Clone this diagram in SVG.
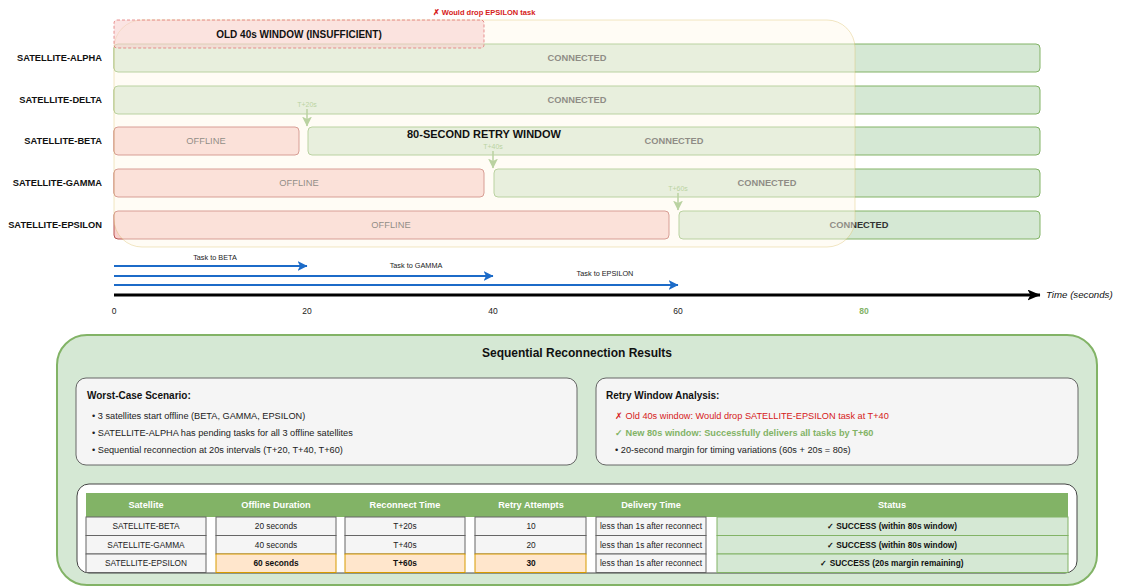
<svg xmlns="http://www.w3.org/2000/svg" width="1123" height="587" viewBox="0 0 1123 587">
<defs>
<style>
text{font-family:"Liberation Sans",Arial,Helvetica,sans-serif;}
.lbl{font-size:9.3px;font-weight:bold;fill:#111;text-anchor:end;dominant-baseline:central}
.on{fill:#d5e8d4;stroke:#82b366;stroke-width:1}
.off{fill:#f8cecc;stroke:#b85450;stroke-width:1}
.ct{font-size:9.3px;font-weight:bold;fill:#333;text-anchor:middle;dominant-baseline:central}
.ot{font-size:9.3px;fill:#333;text-anchor:middle;dominant-baseline:central}
.tm{font-size:7px;fill:#82b366;text-anchor:middle;dominant-baseline:central}
.tg{stroke:#82b366;stroke-width:1.5;fill:none}
.task{stroke:#1c6bc8;stroke-width:2;fill:none}
.tl{font-size:7.3px;fill:#222;text-anchor:middle}
.tick{font-size:8.5px;fill:#222;text-anchor:middle}
.box{fill:#f5f5f5;stroke:#666;stroke-width:1}
.bh{font-size:10px;font-weight:bold;fill:#111}
.bl{font-size:9.2px;fill:#222}
.red{fill:#d62020}
.grn{fill:#82b366;font-weight:bold}
.cell{fill:#f5f5f5;stroke:#666;stroke-width:1}
.hi{fill:#ffe6cc;stroke:#d79b00;stroke-width:1}
.st{fill:#d5e8d4;stroke:#82b366;stroke-width:1}
.th{font-size:9.2px;font-weight:bold;fill:#fff;text-anchor:middle;dominant-baseline:central}
.td{font-size:8.3px;fill:#222;text-anchor:middle;dominant-baseline:central}
.tb{font-size:8.3px;font-weight:bold;fill:#111;text-anchor:middle;dominant-baseline:central}
</style>
<marker id="mb" markerWidth="10" markerHeight="10" refX="9.5" refY="5" orient="auto" markerUnits="userSpaceOnUse"><path d="M0,0 L10,5 L0,10 L2.5,5 z" fill="#1c6bc8"/></marker>
<marker id="mk" markerWidth="13" markerHeight="11" refX="12.5" refY="5.5" orient="auto" markerUnits="userSpaceOnUse"><path d="M0,0 L13,5.5 L0,11 L3,5.5 z" fill="#000"/></marker>
<marker id="mg" markerWidth="10" markerHeight="10" refX="9.5" refY="5" orient="auto" markerUnits="userSpaceOnUse"><path d="M0,0 L10,5 L0,10 L2.5,5 z" fill="#82b366"/></marker>
</defs>
<rect width="1123" height="587" fill="#fff"/>

<g id="row-alpha">
<text class="lbl" x="102" y="58">SATELLITE-ALPHA</text>
<rect class="on" x="114" y="44" width="926" height="28" rx="4"/>
<text class="ct" x="577" y="58">CONNECTED</text>
</g>
<g id="row-delta">
<text class="lbl" x="102" y="100">SATELLITE-DELTA</text>
<rect class="on" x="114" y="86" width="926" height="28" rx="4"/>
<text class="ct" x="577" y="100">CONNECTED</text>
</g>
<g id="row-beta">
<text class="lbl" x="102" y="141">SATELLITE-BETA</text>
<rect class="off" x="114" y="127" width="185" height="28" rx="4"/>
<text class="ot" x="206" y="141">OFFLINE</text>
<rect class="on" x="308" y="127" width="732" height="28" rx="4"/>
<text class="ct" x="674" y="141">CONNECTED</text>
</g>
<g id="row-gamma">
<text class="lbl" x="102" y="183">SATELLITE-GAMMA</text>
<rect class="off" x="114" y="169" width="370" height="28" rx="4"/>
<text class="ot" x="299" y="183">OFFLINE</text>
<rect class="on" x="494" y="169" width="546" height="28" rx="4"/>
<text class="ct" x="767" y="183">CONNECTED</text>
</g>
<g id="row-epsilon">
<text class="lbl" x="102" y="225">SATELLITE-EPSILON</text>
<rect class="off" x="114" y="211" width="555" height="28" rx="4"/>
<text class="ot" x="391" y="225">OFFLINE</text>
<rect class="on" x="679" y="211" width="361" height="28" rx="4"/>
<text class="ct" x="859" y="225">CONNECTED</text>
</g>

<g id="reconnect-markers">
<text class="tm" x="307" y="104">T+20s</text>
<line class="tg" x1="307" y1="109" x2="307" y2="126" marker-end="url(#mg)"/>
<text class="tm" x="493" y="146">T+40s</text>
<line class="tg" x1="493" y1="151" x2="493" y2="168" marker-end="url(#mg)"/>
<text class="tm" x="678" y="188">T+60s</text>
<line class="tg" x1="678" y1="193" x2="678" y2="210" marker-end="url(#mg)"/>
</g>

<g id="retry-window">
<rect x="114" y="20" width="741" height="227" rx="28" fill="#fff8e8" fill-opacity="0.45" stroke="#d6b656" stroke-opacity="0.35" stroke-width="1"/>
<text x="484" y="138" font-size="11" font-weight="bold" fill="#111" text-anchor="middle">80-SECOND RETRY WINDOW</text>
</g>

<g id="old-window">
<rect x="114" y="20" width="370" height="28" rx="3" fill="#f8cecc" fill-opacity="0.55" stroke="#e07070" stroke-opacity="0.75" stroke-dasharray="3 2" stroke-width="1"/>
<text x="299" y="38" font-size="10" font-weight="bold" fill="#111" text-anchor="middle">OLD 40s WINDOW (INSUFFICIENT)</text>
<text x="484" y="15" font-size="7.5" font-weight="bold" fill="#d62020" text-anchor="middle">✗ Would drop EPSILON task</text>
</g>

<g id="connectors">
<line class="task" x1="114" y1="266" x2="307" y2="266" marker-end="url(#mb)"/>
<line class="task" x1="114" y1="276" x2="493" y2="276" marker-end="url(#mb)"/>
<line class="task" x1="114" y1="285" x2="678" y2="285" marker-end="url(#mb)"/>
<line x1="114" y1="295" x2="1040" y2="295" stroke="#000" stroke-width="3" marker-end="url(#mk)"/>
</g>

<g id="task-labels">
<text class="tl" x="215" y="260">Task to BETA</text>
<text class="tl" x="416" y="268">Task to GAMMA</text>
<text class="tl" x="605" y="276">Task to EPSILON</text>
</g>

<g id="time-axis">
<text x="1046" y="298" font-size="9.7" font-style="italic" fill="#111">Time (seconds)</text>
<text class="tick" x="114" y="314">0</text>
<text class="tick" x="307" y="314">20</text>
<text class="tick" x="493" y="314">40</text>
<text class="tick" x="678" y="314">60</text>
<text class="tick" x="864" y="314" style="fill:#82b366;font-weight:bold">80</text>
</g>

<g id="results">
<rect x="57" y="335" width="1040" height="250" rx="30" fill="#d5e8d4" stroke="#82b366" stroke-width="2"/>
<text x="577" y="357" font-size="12" font-weight="bold" fill="#111" text-anchor="middle">Sequential Reconnection Results</text>
</g>

<g id="worst-case">
<rect class="box" x="76" y="378" width="501" height="87" rx="10"/>
<text class="bh" x="87" y="399">Worst-Case Scenario:</text>
<text class="bl" x="92" y="419">• 3 satellites start offline (BETA, GAMMA, EPSILON)</text>
<text class="bl" x="92" y="436">• SATELLITE-ALPHA has pending tasks for all 3 offline satellites</text>
<text class="bl" x="92" y="453">• Sequential reconnection at 20s intervals (T+20, T+40, T+60)</text>
</g>

<g id="retry-analysis">
<rect class="box" x="596" y="378" width="482" height="87" rx="10"/>
<text class="bh" x="606" y="399">Retry Window Analysis:</text>
<text class="bl red" x="615" y="419">✗ Old 40s window: Would drop SATELLITE-EPSILON task at T+40</text>
<text class="bl grn" x="615" y="436">✓ New 80s window: Successfully delivers all tasks by T+60</text>
<text class="bl" x="615" y="453">• 20-second margin for timing variations (60s + 20s = 80s)</text>
</g>

<g id="results-table">
<rect x="77" y="484" width="1000" height="89" rx="12" fill="#fff" stroke="#444" stroke-width="1"/>
<rect x="86" y="493" width="982" height="24" fill="#82b366"/>
<text class="th" x="146" y="505">Satellite</text>
<text class="th" x="276" y="505">Offline Duration</text>
<text class="th" x="405" y="505">Reconnect Time</text>
<text class="th" x="531" y="505">Retry Attempts</text>
<text class="th" x="651" y="505">Delivery Time</text>
<text class="th" x="892" y="505">Status</text>

<rect class="cell" x="86" y="517" width="120" height="18.5"/>
<rect class="cell" x="216" y="517" width="120" height="18.5"/>
<rect class="cell" x="345" y="517" width="120" height="18.5"/>
<rect class="cell" x="475" y="517" width="111" height="18.5"/>
<rect class="cell" x="596" y="517" width="110" height="18.5"/>
<rect class="st" x="717" y="517" width="351" height="18.5"/>
<text class="td" x="146" y="526">SATELLITE-BETA</text>
<text class="td" x="276" y="526">20 seconds</text>
<text class="td" x="405" y="526">T+20s</text>
<text class="td" x="531" y="526">10</text>
<text class="td" x="651" y="526">less than 1s after reconnect</text>
<text class="tb" x="892" y="526">✓ SUCCESS (within 80s window)</text>

<rect class="cell" x="86" y="535.5" width="120" height="18.5"/>
<rect class="cell" x="216" y="535.5" width="120" height="18.5"/>
<rect class="cell" x="345" y="535.5" width="120" height="18.5"/>
<rect class="cell" x="475" y="535.5" width="111" height="18.5"/>
<rect class="cell" x="596" y="535.5" width="110" height="18.5"/>
<rect class="st" x="717" y="535.5" width="351" height="18.5"/>
<text class="td" x="146" y="545">SATELLITE-GAMMA</text>
<text class="td" x="276" y="545">40 seconds</text>
<text class="td" x="405" y="545">T+40s</text>
<text class="td" x="531" y="545">20</text>
<text class="td" x="651" y="545">less than 1s after reconnect</text>
<text class="tb" x="892" y="545">✓ SUCCESS (within 80s window)</text>

<rect class="cell" x="86" y="554" width="120" height="18.5"/>
<rect class="hi" x="216" y="554" width="120" height="18.5"/>
<rect class="hi" x="345" y="554" width="120" height="18.5"/>
<rect class="hi" x="475" y="554" width="111" height="18.5"/>
<rect class="cell" x="596" y="554" width="110" height="18.5"/>
<rect class="st" x="717" y="554" width="351" height="18.5"/>
<text class="td" x="146" y="563">SATELLITE-EPSILON</text>
<text class="tb" x="276" y="563">60 seconds</text>
<text class="tb" x="405" y="563">T+60s</text>
<text class="tb" x="531" y="563">30</text>
<text class="td" x="651" y="563">less than 1s after reconnect</text>
<text class="tb" x="892" y="563">✓ SUCCESS (20s margin remaining)</text>
</g>
</svg>
